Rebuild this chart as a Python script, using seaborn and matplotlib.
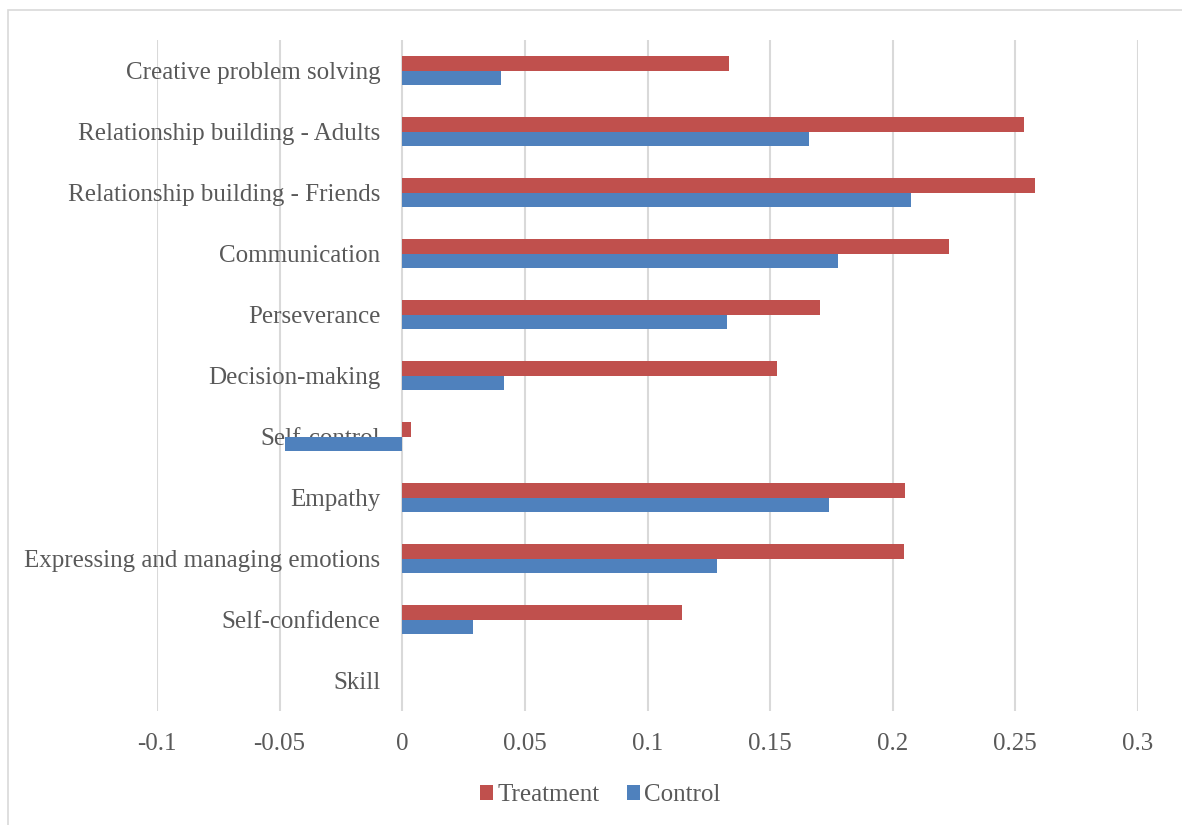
import matplotlib
matplotlib.use("Agg")
import matplotlib.pyplot as plt
import seaborn as sns
import pandas as pd
import numpy as np
from matplotlib.patches import Rectangle

categories = [
    "Creative problem solving",
    "Relationship building - Adults",
    "Relationship building - Friends",
    "Communication",
    "Perseverance",
    "Decision-making",
    "Self-control",
    "Empathy",
    "Expressing and managing emotions",
    "Self-confidence",
    "Skill",
]
treatment = [0.1334, 0.2537, 0.2578, 0.2231, 0.1705, 0.1528, 0.0035, 0.2050, 0.2047, 0.1142, np.nan]
control = [0.0401, 0.1660, 0.2076, 0.1778, 0.1326, 0.0413, -0.0480, 0.1740, 0.1283, 0.0288, np.nan]
series = ["Treatment", "Control"]
xticks = [-0.1, -0.05, 0, 0.05, 0.1, 0.15, 0.2, 0.25, 0.3]
xtick_labels = ["-0.1", "-0.05", "0", "0.05", "0.1", "0.15", "0.2", "0.25", "0.3"]

colors = {"Treatment": "#C0504D", "Control": "#4F81BD"}
text_color = "#595959"
grid_color = "#D9D9D9"

df = pd.DataFrame({
    "Skill": categories * 2,
    "Value": treatment + control,
    "Group": ["Treatment"] * len(categories) + ["Control"] * len(categories),
})

sns.set_theme(style="white")
plt.rcParams["font.family"] = ["Liberation Serif", "DejaVu Serif"]

fig = plt.figure(figsize=(11.82, 8.25), dpi=100)
ax = fig.add_axes([157 / 1182, (825 - 711) / 825, 981 / 1182, 671 / 825])

sns.barplot(data=df, y="Skill", x="Value", hue="Group", order=categories,
            hue_order=series, palette=colors, orient="h", width=0.46,
            linewidth=0, ax=ax, errorbar=None, saturation=1)

ax.set_xlim(-0.1, 0.3)
ax.set_ylim(len(categories) - 0.5, -0.5)
ax.set_xticks(xticks)
ax.set_xticklabels(xtick_labels)
ax.set_xlabel("")
ax.set_ylabel("")

ax.grid(axis="x", color=grid_color, linewidth=1.5)
ax.grid(axis="y", visible=False)
ax.set_axisbelow(True)

for s in ["top", "right", "bottom"]:
    ax.spines[s].set_visible(False)
ax.spines["left"].set_position(("data", 0))
ax.spines["left"].set_color("none")

ax.tick_params(axis="y", length=0, pad=15.8, labelsize=18, labelcolor=text_color)
ax.tick_params(axis="x", length=0, pad=16, labelsize=18, labelcolor=text_color)

handles, labels = ax.get_legend_handles_labels()
if ax.get_legend() is not None:
    ax.get_legend().remove()
fig.legend(handles, labels, loc="center", bbox_to_anchor=(600 / 1182, 1 - 795 / 825),
           ncol=2, frameon=False, fontsize=18, handlelength=0.55, handleheight=0.55,
           handletextpad=0.15, columnspacing=1.1, labelcolor=text_color)

fig.patches.append(Rectangle((8 / 1182, -0.05), 1.2, 1.05 - 10 / 825,
                             transform=fig.transFigure, fill=False,
                             edgecolor=grid_color, linewidth=1.2))

fig.savefig("out.png", dpi=100)
